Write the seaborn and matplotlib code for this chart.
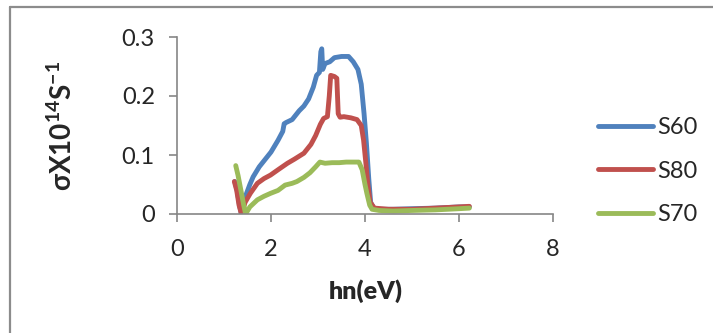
import matplotlib
matplotlib.use("Agg")
import matplotlib.pyplot as plt
from matplotlib.lines import Line2D
import pandas as pd
import seaborn as sns

# Photon energy (eV) and optical conductivity (x10^14 S^-1) for each sample
s60_x = [1.23, 1.28, 1.33, 1.37, 1.42, 1.48, 1.55, 1.62, 1.75, 1.9, 2.0, 2.15, 2.25,
         2.28, 2.32, 2.45, 2.6, 2.7, 2.8, 2.9, 2.97, 3.03, 3.06, 3.08, 3.1, 3.15, 3.25,
         3.35, 3.5, 3.65, 3.75, 3.85, 3.92, 3.98, 4.03, 4.08, 4.12, 4.18, 4.3, 4.6,
         5.0, 5.5, 6.0, 6.22]
s60_y = [0.055, 0.04, 0.015, 0.0, 0.02, 0.035, 0.05, 0.063, 0.08, 0.095, 0.105, 0.125,
         0.14, 0.153, 0.155, 0.16, 0.175, 0.183, 0.195, 0.215, 0.235, 0.24, 0.275, 0.28,
         0.245, 0.255, 0.258, 0.265, 0.267, 0.267, 0.258, 0.245, 0.22, 0.17, 0.12, 0.06,
         0.02, 0.01, 0.008, 0.008, 0.009, 0.01, 0.012, 0.012]

s80_x = [1.22, 1.27, 1.32, 1.37, 1.45, 1.56, 1.71, 1.85, 1.99, 2.15, 2.35, 2.5, 2.7,
         2.85, 2.95, 3.05, 3.12, 3.2, 3.24, 3.27, 3.35, 3.4, 3.43, 3.47, 3.55, 3.7,
         3.83, 3.92, 3.97, 4.02, 4.06, 4.11, 4.2, 4.5, 5.0, 5.5, 6.0, 6.22]
s80_y = [0.055, 0.04, 0.015, 0.0, 0.02, 0.035, 0.052, 0.06, 0.066, 0.075, 0.086, 0.093,
         0.103, 0.118, 0.133, 0.152, 0.162, 0.165, 0.2, 0.235, 0.233, 0.23, 0.17, 0.164,
         0.165, 0.163, 0.16, 0.15, 0.125, 0.085, 0.05, 0.02, 0.01, 0.008, 0.008, 0.01,
         0.012, 0.013]

s70_x = [1.25, 1.3, 1.36, 1.42, 1.46, 1.55, 1.71, 1.85, 1.99, 2.15, 2.3, 2.45, 2.55,
         2.7, 2.83, 2.95, 3.04, 3.15, 3.3, 3.45, 3.6, 3.75, 3.87, 3.94, 4.0, 4.04, 4.1,
         4.15, 4.3, 4.6, 5.0, 5.5, 6.0, 6.22]
s70_y = [0.082, 0.065, 0.04, 0.015, 0.0, 0.012, 0.024, 0.03, 0.035, 0.04, 0.049, 0.052,
         0.055, 0.062, 0.07, 0.08, 0.088, 0.086, 0.087, 0.087, 0.088, 0.088, 0.088, 0.075,
         0.05, 0.035, 0.015, 0.008, 0.006, 0.005, 0.006, 0.007, 0.009, 0.01]

series_names = ["S60", "S80", "S70"]
series_colors = ["#4F81BD", "#C0504D", "#9BBB59"]
x_ticks = [0, 2, 4, 6, 8]
y_ticks = [0, 0.1, 0.2, 0.3]
x_label = "hn(eV)"
y_label = r"$\mathbf{σX10^{14}S^{-1}}$"

frames = []
for name, xs, ys in zip(series_names, [s60_x, s80_x, s70_x], [s60_y, s80_y, s70_y]):
    frames.append(pd.DataFrame({"energy": xs, "sigma": ys, "sample": name}))
df = pd.concat(frames, ignore_index=True)

sns.set_style("white")
plt.rcParams["font.family"] = ["Lato", "DejaVu Sans"]
plt.rcParams["mathtext.fontset"] = "custom"
plt.rcParams["mathtext.rm"] = "Lato"
plt.rcParams["mathtext.bf"] = "Lato:bold"
plt.rcParams["mathtext.fallback"] = "stixsans"

fig = plt.figure(figsize=(7.13, 3.33), dpi=100)
ax = fig.add_axes([177 / 713, 1 - 214 / 333, (553 - 177) / 713, (214 - 37) / 333])

sns.lineplot(data=df, x="energy", y="sigma", hue="sample", hue_order=series_names,
             palette=series_colors, estimator=None, sort=False, linewidth=3.5,
             ax=ax, legend=False)

ax.set_xlim(0, 8)
ax.set_ylim(0, 0.3)
ax.set_xticks(x_ticks)
ax.set_yticks(y_ticks)
ax.set_xticklabels([f"{t:g}" for t in x_ticks])
ax.set_yticklabels([f"{t:g}" for t in y_ticks])
ax.set_xlabel("")
ax.set_ylabel("")

axis_grey = "#868686"
for side in ("top", "right"):
    ax.spines[side].set_visible(False)
for side in ("left", "bottom"):
    ax.spines[side].set_color(axis_grey)
    ax.spines[side].set_linewidth(1.2)
ax.tick_params(axis="x", direction="out", length=6, width=1.2, color=axis_grey,
               labelsize=17, pad=12, bottom=True)
ax.tick_params(axis="y", direction="out", length=6, width=1.2, color=axis_grey,
               labelsize=17, pad=10, left=True)

fig.text(366 / 713, 1 - 291 / 333, x_label, ha="center", va="center",
         fontsize=18, fontweight="heavy")
fig.text(62 / 713, 1 - 126 / 333, y_label, ha="center", va="center",
         rotation=90, fontsize=20)

handles = [Line2D([0], [0], color=c, lw=3.5, solid_capstyle="round") for c in series_colors]
fig.legend(handles, series_names, loc="center left",
           bbox_to_anchor=(598 / 713, 1 - 171 / 333), frameon=False, fontsize=17,
           handlelength=2.35, handletextpad=0.15, labelspacing=0.95, borderpad=0,
           borderaxespad=0)

# outer frame of the chart area
frame_grey = "#8C8C8C"
fig.add_artist(Line2D([10 / 713, 10 / 713], [0, 1 - 7 / 333], color=frame_grey, lw=1.6))
fig.add_artist(Line2D([10 / 713, 1], [1 - 7 / 333, 1 - 7 / 333], color=frame_grey, lw=1.6))

fig.savefig("out.png", dpi=100)
